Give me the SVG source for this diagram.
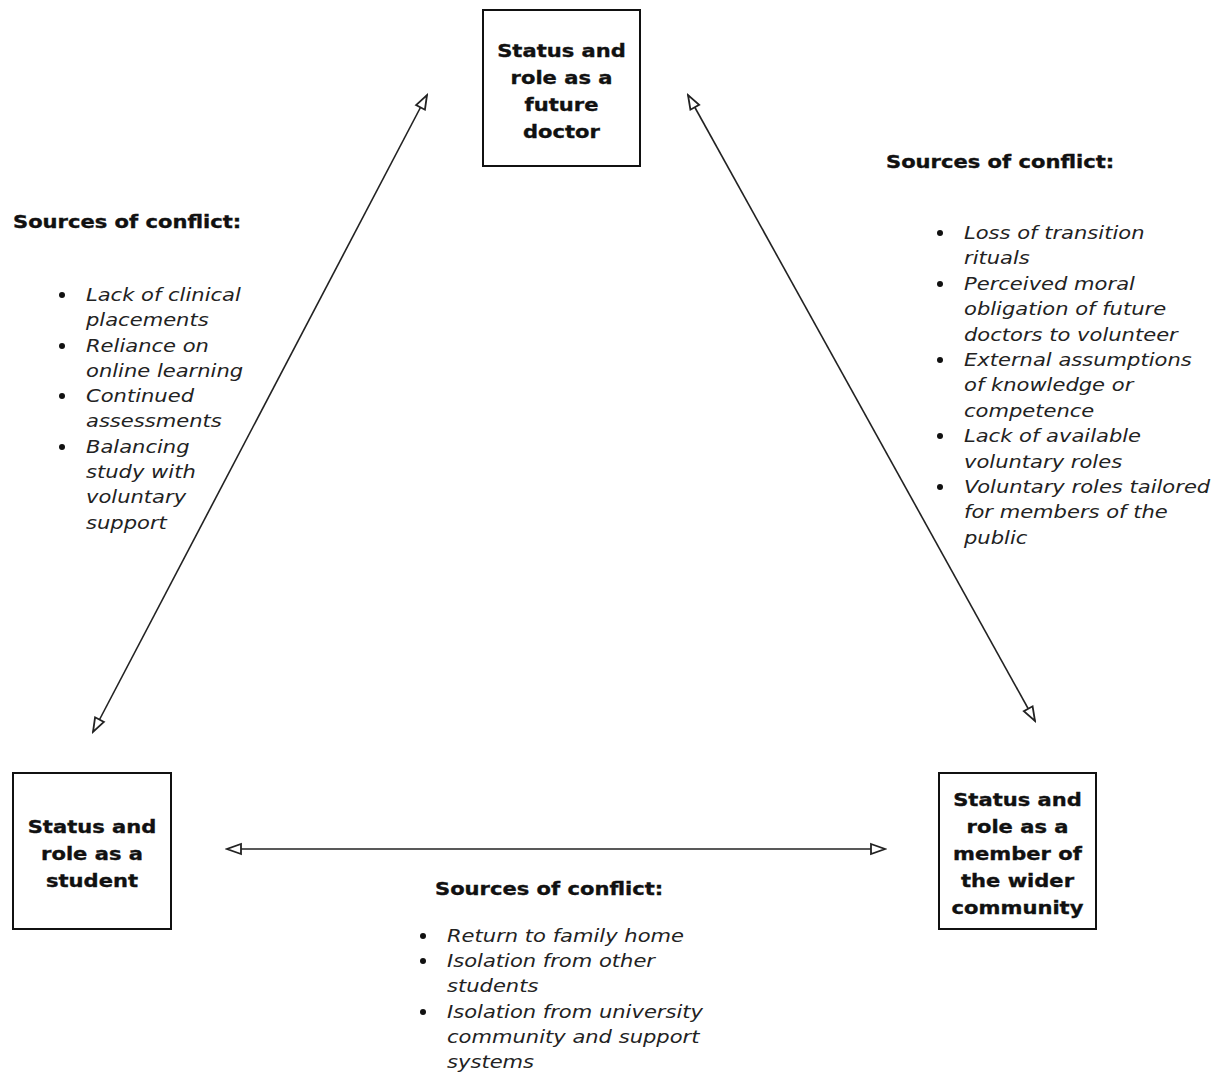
<svg xmlns="http://www.w3.org/2000/svg" width="1227" height="1073" viewBox="0 0 1227 1073">
<style>
.box{fill:#fff;stroke:#111;stroke-width:2}
.bt{font-family:"DejaVu Sans","Liberation Sans",sans-serif;font-weight:bold;font-size:18px;fill:#111;stroke:#111;stroke-width:0.35;text-anchor:middle}
.hd{font-family:"DejaVu Sans","Liberation Sans",sans-serif;font-weight:bold;font-size:18px;fill:#111;stroke:#111;stroke-width:0.35}
.it{font-family:"DejaVu Sans","Liberation Sans",sans-serif;font-style:italic;font-size:18px;fill:#222}
.conn{stroke:#222;stroke-width:1.6;fill:none;marker-start:url(#ah);marker-end:url(#ah)}
.dot{fill:#111}
</style>
<defs>
<marker id="ah" markerUnits="userSpaceOnUse" markerWidth="18" markerHeight="14" refX="14" refY="5" orient="auto-start-reverse" viewBox="-2 -2 18 14">
<path d="M0,0 L14,5 L0,10 Z" fill="#fff" stroke="#222" stroke-width="1.8"/>
</marker>
</defs>
<rect width="1227" height="1073" fill="#fff"/>
<g id="connectors">
<line class="conn" x1="93" y1="732" x2="427" y2="95"/>
<line class="conn" x1="688" y1="95" x2="1035" y2="721"/>
<line class="conn" x1="227" y1="849" x2="885" y2="849"/>
</g>
<g id="node-doctor">
<rect class="box" x="483" y="10" width="157" height="156"/>
<g transform="translate(561.5,0) scale(1.17,1)">
<text class="bt" x="0" y="57">Status and</text>
<text class="bt" x="0" y="84">role as a</text>
<text class="bt" x="0" y="111">future</text>
<text class="bt" x="0" y="138">doctor</text>
</g>
</g>
<g id="node-student">
<rect class="box" x="13" y="773" width="158" height="156"/>
<g transform="translate(92,0) scale(1.17,1)">
<text class="bt" x="0" y="833">Status and</text>
<text class="bt" x="0" y="860">role as a</text>
<text class="bt" x="0" y="887">student</text>
</g>
</g>
<g id="node-community">
<rect class="box" x="939" y="773" width="157" height="156"/>
<g transform="translate(1017.5,0) scale(1.17,1)">
<text class="bt" x="0" y="806">Status and</text>
<text class="bt" x="0" y="833">role as a</text>
<text class="bt" x="0" y="860">member of</text>
<text class="bt" x="0" y="887">the wider</text>
<text class="bt" x="0" y="914">community</text>
</g>
</g>
<g id="conflict-left">
<text class="hd" transform="translate(13,228) scale(1.17,1)">Sources of conflict:</text>
<circle class="dot" cx="62" cy="295" r="3"/>
<circle class="dot" cx="62" cy="346" r="3"/>
<circle class="dot" cx="62" cy="396" r="3"/>
<circle class="dot" cx="62" cy="447" r="3"/>
<g transform="translate(86,0) scale(1.17,1)">
<text class="it" x="0" y="301">Lack of clinical</text>
<text class="it" x="0" y="326.3">placements</text>
<text class="it" x="0" y="351.6">Reliance on</text>
<text class="it" x="0" y="376.9">online learning</text>
<text class="it" x="0" y="402.2">Continued</text>
<text class="it" x="0" y="427.5">assessments</text>
<text class="it" x="0" y="452.8">Balancing</text>
<text class="it" x="0" y="478.1">study with</text>
<text class="it" x="0" y="503.4">voluntary</text>
<text class="it" x="0" y="528.7">support</text>
</g>
</g>
<g id="conflict-right">
<text class="hd" transform="translate(886,168) scale(1.17,1)">Sources of conflict:</text>
<circle class="dot" cx="940" cy="233" r="3"/>
<circle class="dot" cx="940" cy="284" r="3"/>
<circle class="dot" cx="940" cy="360" r="3"/>
<circle class="dot" cx="940" cy="436" r="3"/>
<circle class="dot" cx="940" cy="487" r="3"/>
<g transform="translate(964,0) scale(1.17,1)">
<text class="it" x="0" y="239">Loss of transition</text>
<text class="it" x="0" y="264.4">rituals</text>
<text class="it" x="0" y="289.8">Perceived moral</text>
<text class="it" x="0" y="315.2">obligation of future</text>
<text class="it" x="0" y="340.6">doctors to volunteer</text>
<text class="it" x="0" y="366">External assumptions</text>
<text class="it" x="0" y="391.4">of knowledge or</text>
<text class="it" x="0" y="416.8">competence</text>
<text class="it" x="0" y="442.2">Lack of available</text>
<text class="it" x="0" y="467.6">voluntary roles</text>
<text class="it" x="0" y="493">Voluntary roles tailored</text>
<text class="it" x="0" y="518.4">for members of the</text>
<text class="it" x="0" y="543.8">public</text>
</g>
</g>
<g id="conflict-bottom">
<text class="hd" transform="translate(435,895) scale(1.17,1)">Sources of conflict:</text>
<circle class="dot" cx="423" cy="936" r="3"/>
<circle class="dot" cx="423" cy="961" r="3"/>
<circle class="dot" cx="423" cy="1012" r="3"/>
<g transform="translate(447,0) scale(1.17,1)">
<text class="it" x="0" y="942">Return to family home</text>
<text class="it" x="0" y="967.2">Isolation from other</text>
<text class="it" x="0" y="992.4">students</text>
<text class="it" x="0" y="1017.6">Isolation from university</text>
<text class="it" x="0" y="1042.8">community and support</text>
<text class="it" x="0" y="1068">systems</text>
</g>
</g>
</svg>
